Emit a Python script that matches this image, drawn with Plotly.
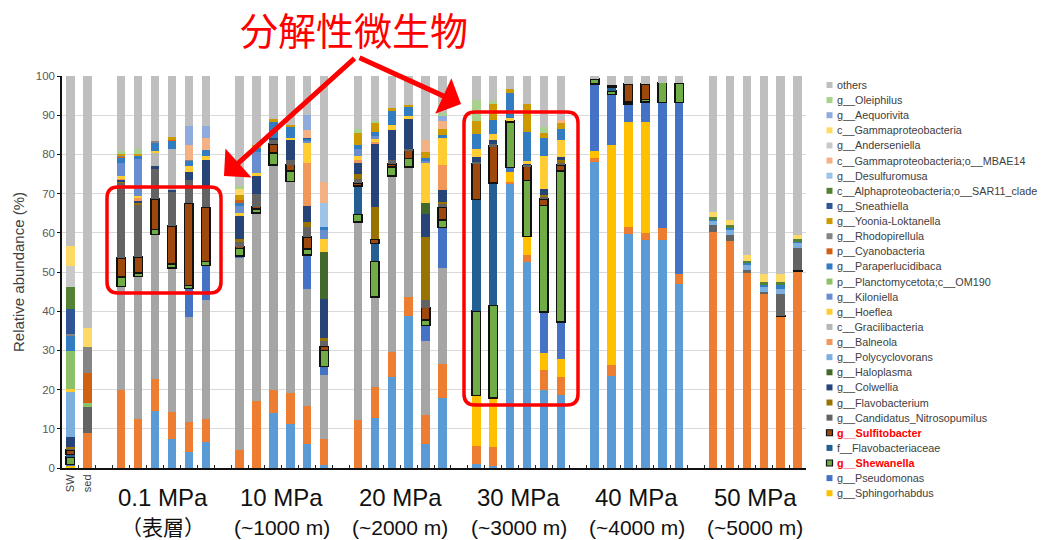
import plotly.graph_objects as go

# ---------------------------------------------------------------------------
# Samples: seawater, sediment, then six pressure groups with six replicates
# ---------------------------------------------------------------------------
groups = ["0.1 MPa", "10 MPa", "20 MPa", "30 MPa", "40 MPa", "50 MPa"]
group_depth = ["（表層）", "(~1000 m)", "(~2000 m)", "(~3000 m)", "(~4000 m)", "(~5000 m)"]
n_rep = 6

# Relative abundance (%) per taxon, order: SW, sed, then 0.1/10/20/30/40/50 MPa x 6
taxon_A = [0, 0,  0, 0, 14.6, 7.4, 4.0, 6.6,  0, 0, 14.0, 11.2, 6.1, 0.8,
           0, 12.8, 23.3, 38.9, 6.1, 17.9,  0.9, 0.6, 72.6, 52.6, 19.8, 18.7,
           78.1, 23.4, 59.6, 58.1, 58.1, 47.0,  0, 0, 0, 0, 0, 0]
taxon_B = [0, 8.9,  20.0, 12.5, 8.1, 6.8, 7.7, 5.9,  4.6, 17.0, 5.9, 7.9, 9.8, 6.6,
           12.3, 7.8, 6.3, 4.7, 7.5, 8.7,  4.6, 4.7, 0.4, 1.8, 5.2, 4.6,
           1.1, 3.0, 1.9, 1.9, 3.0, 2.4,  60.2, 57.9, 49.8, 44.3, 38.7, 50.3]
taxon_C = [0, 0,  26.3, 36.4, 36.9, 36.8, 26.8, 30.3,  49.2, 48.1, 57.4, 54.0, 29.8, 16.2,
           50.5, 23.0, 44.9, 33.2, 18.9, 24.5,  0, 0, 0, 0, 0, 0,
           0, 0, 0, 0, 0, 0,  0, 0, 0, 0, 0, 0]
sphingorhabdus = [0.6, 0,  0, 0, 0, 0, 0, 0,  0, 0, 0, 0, 0, 0,  0, 0, 0, 0, 0, 0,
                  13.0, 12.6, 2.6, 4.7, 4.3, 4.4,  1.7, 56.0, 26.7, 28.2, 0, 0,  0, 0, 0, 0, 0, 0]
pseudomonas = [0.3, 0,  0, 0, 0, 0, 7.3, 8.9,  0.3, 0, 0, 0, 8.6, 2.3,  0, 0, 0, 0, 3.9, 10.3,
               0, 0, 1.1, 0, 10.5, 9.5,  17.1, 12.9, 4.6, 5.2, 32.1, 43.8,  0, 0, 0, 0, 0, 0]
shewanella = [1.9, 0,  2.4, 0.9, 1.2, 1.1, 0.8, 1.0,  1.9, 0.9, 3.0, 2.6, 1.5, 4.1,
              1.9, 9.1, 2.3, 2.2, 1.3, 1.8,  21.5, 23.6, 11.6, 14.2, 27.2, 38.6,
              1.3, 0.9, 0.6, 0.6, 5.1, 4.9,  0, 0, 0, 0, 0, 0]
flavobacteriaceae = [0.6, 0,  0, 0, 0, 0, 0, 0,  0, 0, 0, 0, 0, 0,  7.3, 4.6, 0, 0, 0, 0,
                     28.5, 31.2, 0, 0, 0, 0,  0, 1.0, 0, 0, 0, 0,  0, 0, 0, 0, 0, 0]
sulfitobacter = [1.2, 0,  4.8, 4.0, 7.9, 9.6, 20.9, 13.8,  0.5, 0.7, 2.3, 1.7, 3.2, 1.0,
                 0.7, 1.0, 0.8, 2.1, 3.2, 3.3,  9.2, 9.4, 0.3, 3.7, 1.7, 1.5,
                 0, 0.4, 4.6, 4.0, 0, 0,  0, 0, 0, 0, 0.2, 0.1]
nitrosopumilus = [0.3, 6.6,  19.3, 13.5, 7.5, 8.6, 5.9, 5.2,  1.2, 3.3, 1.2, 1.3, 2.5, 1.5,
                  0.9, 0, 1.0, 0.3, 1.9, 1.0,  0.4, 0.5, 0, 0.3, 0.6, 0.6,
                  0, 0, 0, 0, 0, 0,  1.7, 1.5, 0.8, 0.6, 5.4, 5.8]
flavobacterium = [0.5, 0,  0.4, 0.4, 0, 0, 0, 0,  0.6, 0, 0, 0, 1.3, 0.7,
                  1.5, 8.2, 0, 0, 16.2, 0.4,  0, 0, 0, 0, 0.4, 0.6,
                  0, 0, 0, 0, 0, 0,  0, 0, 0, 0, 0, 0]
colwellia = [2.4, 0,  0.3, 0.5, 0.9, 0.6, 2.2, 6.8,  6.2, 4.5, 0.4, 5.1, 4.0, 9.9,
             2.8, 16.1, 7.6, 7.6, 5.8, 3.0,  1.3, 1.0, 0, 0.4, 1.6, 0.8,
             0, 0, 0, 0, 0, 0,  0, 0, 0, 0, 0, 0]
haloplasma = [0, 0,  0, 0, 0, 0, 0, 0,  0, 0, 0, 0, 0, 12.0,  0, 0, 0, 0, 2.8, 0,
              0, 0, 0, 0, 0, 0,  0, 0, 0, 0, 0, 0,  0, 0, 0, 0, 0, 0]
polycyclovorans = [11.6, 0,  0, 0, 0, 0, 0, 0,  0, 0, 0, 0, 0, 0,  0, 0, 0, 0, 0, 0,
                   0, 0, 0, 0, 0, 0,  0, 0, 0, 0, 0, 0,  1.0, 1.2, 1.4, 1.3, 1.4, 1.2]
balneola = [0, 0,  0.3, 0.6, 0, 0, 0, 0,  0, 0, 0, 0, 10.9, 0,  0.7, 0.6, 0, 0, 0, 6.4,
            0, 0, 0, 0, 0, 0,  0, 0, 0, 0, 0, 0,  0, 0, 0, 0, 0, 0]
gracilibacteria = [0, 0,  0, 0, 3.3, 10.4, 0, 0,  0, 0, 0, 0, 0, 0,  0, 0, 0, 0, 0, 0,
                   0, 0, 0, 0, 0, 0,  0, 0, 0, 0, 0, 0,  0, 0, 0, 0, 0, 0]
hoeflea = [0.8, 0,  0.6, 0.7, 0.4, 0, 1.4, 1.1,  0.5, 0.8, 0, 0.5, 5.3, 3.3,
           1.0, 0.8, 1.2, 0.8, 10.1, 6.8,  1.9, 1.7, 0.6, 0.5, 8.3, 4.3,
           0, 0, 0, 0, 0, 0,  0, 0, 0, 0, 0, 0]
kiloniella = [0, 0,  3.3, 9.4, 0, 0, 0, 0,  1.8, 5.4, 0, 0, 0.4, 2.4,  1.9, 0.8, 0, 0, 0.6, 0,
              0, 0, 0, 0, 0, 0,  0, 0, 0, 0, 0, 0,  0, 0, 0, 0, 0, 0]
om190 = [9.7, 1.0,  0, 0, 0, 0, 0, 0,  0, 0, 0, 0, 0, 0,  0, 0, 0, 0, 0, 0,
         0, 0, 0, 0, 0, 0,  0, 0, 0, 0, 0, 0,  0, 0, 0, 0, 0, 0]
paraperlucidibaca = [3.8, 0,  1.4, 0.7, 2.2, 2.2, 1.4, 1.5,  0.7, 1.0, 4.1, 2.6, 0.6, 0.8,
                     0.8, 0.8, 3.9, 2.5, 0.8, 0.8,  3.9, 3.6, 6.4, 7.6, 4.5, 2.8,
                     0, 0, 0, 0, 0, 0,  0.6, 0.8, 0.3, 0.5, 0.9, 0.5]
cyanobacteria = [0, 7.7,  0.4, 0, 0, 0.4, 0, 0,  0.8, 0, 0, 0, 0, 0,  0, 0, 0, 0, 0, 0,
                 0, 0, 0, 0, 0, 0,  0, 0, 0, 0, 0, 0,  0, 0, 0, 0, 0, 0]
rhodopirellula = [0.4, 6.6,  0.3, 0, 0.5, 0, 0.3, 0,  0, 0, 0, 0, 0, 0,  0, 0, 0, 0, 0, 0,
                  0, 0, 0, 0, 0, 0,  0, 0, 0, 0, 0, 0,  0, 0, 0, 0, 0, 0]
yoonia = [0, 0,  0.5, 0.4, 0, 0.5, 0, 0,  1.3, 0.8, 0.7, 0.6, 0, 0,  3.1, 2.4, 0.5, 0.3, 1.6, 1.5,
          3.4, 3.9, 1.0, 7.0, 1.4, 1.5,  0, 0, 0, 0, 0, 0,  0, 0, 0, 0, 0, 0]
sneathiella = [6.4, 0,  0, 0, 0, 0, 0, 0,  0, 0, 0, 0, 0.3, 0,  0, 0, 0, 0, 0, 0,
               0, 0, 0, 0, 0, 0,  0, 0, 0, 0, 0, 0,  0, 0, 0, 0, 0, 0]
sar11 = [5.8, 0,  0, 0, 0, 0, 0, 0,  0, 0, 0, 0, 0, 0,  0, 0, 0, 0, 0, 0,
         0, 0, 0, 0, 0, 0,  0, 0, 0, 0, 0, 0,  0.5, 0.5, 0.4, 0.7, 0.8, 0.4]
desulfuromusa = [0, 0,  0, 0, 0, 0, 0, 0,  0, 0, 0, 0, 0, 5.9,  0, 0, 0, 0, 0, 0,
                 0, 0, 0, 0, 0, 0,  0, 0, 0, 0, 0, 0,  0, 0, 0, 0, 0, 0]
mbae14 = [0, 0,  0, 0, 0, 0, 3.7, 3.0,  0, 0, 0, 0, 2.0, 5.5,  0, 0, 0, 0, 3.1, 2.2,
          0, 0, 0, 0, 0, 0.8,  0, 0, 0, 0, 0, 0,  0, 0, 0, 0, 0, 0]
anderseniella = [5.2, 0,  0, 0, 0, 0, 0, 0,  0, 0, 0, 0, 0, 0,  0, 0, 0, 0, 0, 0,
                 0, 0, 0, 0, 0, 0,  0, 0, 0, 0, 0, 0,  0, 0, 0, 0, 0, 0]
gammaproteobacteria = [5.1, 4.8,  0, 0, 0, 0, 0, 0,  1.7, 0, 0, 0, 0, 0,  0, 0, 0, 0, 0, 0,
                       0, 0, 0, 0, 0, 0,  0, 0, 0, 0, 0, 0,  1.2, 1.3, 1.6, 2.2, 2.0, 1.2]
aequorivita = [0, 0,  0, 0, 0, 0, 4.8, 3.1,  0, 0, 0, 0, 3.7, 0,  0, 0, 0, 0, 0, 1.2,
               0, 0, 0, 0, 0, 0,  0, 0, 0, 0, 0, 0,  0, 0, 0, 0, 0, 0]
oleiphilus = [0, 0,  0.5, 1.4, 0, 0, 0, 0,  0.7, 0, 0, 0, 0, 0,  1.2, 0.6, 0, 0, 0, 0.7,
              5.3, 0.9, 0, 0, 1.4, 0,  0, 0, 0, 0, 0, 0,  0, 0, 0, 0, 0, 0]
others = [43.4, 64.4,  19.2, 18.6, 16.5, 15.6, 12.8, 12.8,  28.0, 17.5, 11.0, 12.5, 10.0, 27.0,
          13.4, 11.4, 8.2, 7.4, 16.2, 9.5,  6.1, 6.3, 3.4, 7.2, 13.1, 11.3,
          0.7, 2.4, 2.0, 2.0, 1.7, 1.9,  34.8, 36.8, 45.7, 50.4, 50.6, 40.5]

# (legend label, colour, values, outlined, highlighted), stacked bottom -> top
taxa = [
    ("taxon_A", "#5B9BD5", taxon_A, False, False),
    ("taxon_B", "#ED7D31", taxon_B, False, False),
    ("taxon_C", "#A5A5A5", taxon_C, False, False),
    ("g__Sphingorhabdus", "#FFC000", sphingorhabdus, False, False),
    ("g__Pseudomonas", "#4472C4", pseudomonas, False, False),
    ("g__Shewanella", "#70AD47", shewanella, True, True),
    ("f__Flavobacteriaceae", "#255E91", flavobacteriaceae, False, False),
    ("g__Sulfitobacter", "#9E480E", sulfitobacter, True, True),
    ("g__Candidatus_Nitrosopumilus", "#636363", nitrosopumilus, False, False),
    ("g__Flavobacterium", "#997300", flavobacterium, False, False),
    ("g__Colwellia", "#264478", colwellia, False, False),
    ("g__Haloplasma", "#43682B", haloplasma, False, False),
    ("g__Polycyclovorans", "#7CAFDD", polycyclovorans, False, False),
    ("g__Balneola", "#F1975A", balneola, False, False),
    ("c__Gracilibacteria", "#B7B7B7", gracilibacteria, False, False),
    ("g__Hoeflea", "#FFCD33", hoeflea, False, False),
    ("g__Kiloniella", "#698ED0", kiloniella, False, False),
    ("p__Planctomycetota;c__OM190", "#8CC168", om190, False, False),
    ("g__Paraperlucidibaca", "#327DC2", paraperlucidibaca, False, False),
    ("p__Cyanobacteria", "#D26012", cyanobacteria, False, False),
    ("g__Rhodopirellula", "#848484", rhodopirellula, False, False),
    ("g__Yoonia-Loktanella", "#CC9A00", yoonia, False, False),
    ("g__Sneathiella", "#2F5597", sneathiella, False, False),
    ("c__Alphaproteobacteria;o__SAR11_clade", "#548235", sar11, False, False),
    ("g__Desulfuromusa", "#9DC3E6", desulfuromusa, False, False),
    ("c__Gammaproteobacteria;o__MBAE14", "#F4B183", mbae14, False, False),
    ("g__Anderseniella", "#C9C9C9", anderseniella, False, False),
    ("c__Gammaproteobacteria", "#FFD966", gammaproteobacteria, False, False),
    ("g__Aequorivita", "#8FAADC", aequorivita, False, False),
    ("g__Oleiphilus", "#A9D18E", oleiphilus, False, False),
    ("others", "#BFBFBF", others, False, False),
]
legend_hidden = {"taxon_A", "taxon_B", "taxon_C"}

# ---------------------------------------------------------------------------
# Category slots: samples plus an empty slot ahead of every pressure group
# ---------------------------------------------------------------------------
samples = ["SW", "sed"]
slots = ["SW", "sed"]
group_first = []
for gi, g in enumerate(groups):
    slots.append(f"gap{gi}")
    group_first.append(len(slots))
    for r in range(1, n_rep + 1):
        samples.append(f"{g} #{r}")
        slots.append(f"{g} #{r}")
slot_text = ["SW", "sed"] + [""] * (len(slots) - 2)

W, H = 1047, 540
L, R, T, B = 62, 241, 76, 72
PW, PH = W - L - R, H - T - B


def px(xp):
    return (xp - L) / PW


def py(yp):
    return (H - B - yp) / PH


fig = go.Figure()
for name, color, vals, outlined, _ in taxa:
    fig.add_trace(go.Bar(
        x=samples,
        y=[v if v else None for v in vals],
        name=name,
        marker=dict(color=color,
                    line=dict(color="#111111", width=1.6 if outlined else 0)),
        showlegend=False,
    ))

shapes = []
annotations = []

# Hand-drawn legend column (top entry = top of the stack)
leg_x, leg_y0, leg_dy, sq = 826.5, 85.0, 15.12, 6
legend_entries = [t for t in reversed(taxa) if t[0] not in legend_hidden]
for i, (name, color, _, outlined, highlight) in enumerate(legend_entries):
    yc = leg_y0 + i * leg_dy
    shapes.append(dict(
        type="rect", xref="paper", yref="paper",
        x0=px(leg_x), x1=px(leg_x + sq), y0=py(yc + sq / 2), y1=py(yc - sq / 2),
        fillcolor=color,
        line=dict(color="#111111", width=1.2 if outlined else 0),
    ))
    annotations.append(dict(
        xref="paper", yref="paper", x=px(leg_x + sq + 2), y=py(yc),
        xanchor="left", yanchor="middle", showarrow=False,
        text=f"<b>{name}</b>" if highlight else name,
        font=dict(family="Arial, Liberation Sans", size=10.8,
                  color="#FF0000" if highlight else "#404040"),
    ))

# Pressure group labels under the axis
for gi, g in enumerate(groups):
    xc = group_first[gi] + (n_rep - 1) / 2
    annotations.append(dict(
        xref="x", yref="paper", x=xc, y=py(497), xanchor="center", yanchor="middle",
        showarrow=False, text=g,
        font=dict(family="Arial, Liberation Sans", size=24, color="#111111"),
    ))
    annotations.append(dict(
        xref="x", yref="paper", x=xc, y=py(527), xanchor="center", yanchor="middle",
        showarrow=False, text=group_depth[gi],
        font=dict(family="Arial, Noto Sans CJK JP", size=21, color="#111111"),
    ))

# Callout heading with two arrows
annotations.append(dict(
    xref="paper", yref="paper", x=px(354), y=py(28), xanchor="center", yanchor="middle",
    showarrow=False, text="分解性微生物", borderpad=0,
    font=dict(family="Noto Sans CJK JP", size=38, color="#FF0000"),
))
for tip, tail in [((224, 176), (356, 57)), ((461, 104), (358, 57))]:
    annotations.append(dict(
        xref="paper", yref="paper", x=px(tip[0]), y=py(tip[1]),
        ax=tail[0] - tip[0], ay=tail[1] - tip[1], axref="pixel", ayref="pixel",
        text="", showarrow=True, arrowhead=1, arrowsize=1.3, arrowwidth=5,
        arrowcolor="#FF0000", standoff=0,
    ))


def rounded_box(x0, y0, x1, y1, r):
    pts = [
        ("M", (x0 + r, y0)), ("L", (x1 - r, y0)), ("Q", (x1, y0), (x1, y0 + r)),
        ("L", (x1, y1 - r)), ("Q", (x1, y1), (x1 - r, y1)),
        ("L", (x0 + r, y1)), ("Q", (x0, y1), (x0, y1 - r)),
        ("L", (x0, y0 + r)), ("Q", (x0, y0), (x0 + r, y0)),
    ]
    parts = []
    for cmd, *coords in pts:
        parts.append(cmd + " ".join(f"{px(a):.5f},{py(b):.5f}" for a, b in coords))
    return " ".join(parts) + " Z"


for box in [(107, 187, 221, 293), (464, 112, 578, 405)]:
    shapes.append(dict(type="path", xref="paper", yref="paper",
                       path=rounded_box(*box, 11),
                       line=dict(color="#FF0000", width=3.5)))

fig.update_layout(
    width=W, height=H,
    margin=dict(l=L, r=R, t=T, b=B),
    barmode="stack", bargap=0.5,
    plot_bgcolor="white", paper_bgcolor="white",
    font=dict(family="Arial, Liberation Sans", color="#404040"),
    showlegend=False,
    shapes=shapes, annotations=annotations,
    xaxis=dict(
        type="category", categoryorder="array", categoryarray=slots,
        tickmode="array", tickvals=slots, ticktext=slot_text,
        tickangle=-90, tickfont=dict(size=11, color="#404040"),
        tickson="boundaries", ticks="inside", ticklen=3, tickcolor="#222222",
        showgrid=False, showline=True, linecolor="#111111", linewidth=2,
        range=[-0.5, len(slots) - 0.5],
    ),
    yaxis=dict(
        range=[0, 100], dtick=10, tickfont=dict(size=11.5, color="#595959"),
        showgrid=True, gridcolor="#D9D9D9", gridwidth=1,
        showline=True, linecolor="#111111", linewidth=1.5,
        ticks="outside", ticklen=3, tickcolor="#111111",
        zeroline=False,
        title=dict(text="Relative abundance (%)", standoff=8,
                   font=dict(size=15, color="#404040")),
    ),
)

fig.write_html("out.html")
